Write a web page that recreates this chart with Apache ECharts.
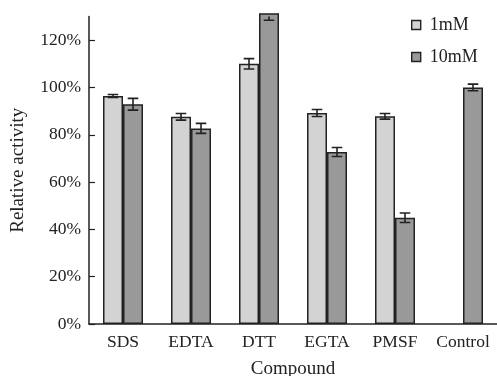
<!DOCTYPE html>
<html><head><meta charset="utf-8">
<script src="https://cdn.jsdelivr.net/npm/echarts@6/dist/echarts.min.js"></script>
<style>html,body{margin:0;padding:0;background:#fff}#c{width:497px;height:376px}</style>
</head><body><div id="c"></div>
<script>
var categories = ['SDS', 'EDTA', 'DTT', 'EGTA', 'PMSF', 'Control'];
var seriesNames = ['1mM', '10mM'];
var val1mM = [96.4, 87.6, 110, 89.2, 87.8, null];
var err1mM = [0.6, 1.4, 2.2, 1.5, 1.2, null];
var val10mM = [92.9, 82.7, 131.4, 72.7, 44.9, 100];
var err10mM = [2.5, 2.1, 3, 1.9, 2, 1.4];
var yTicks = [0, 20, 40, 60, 80, 100, 120];

var FONT = 'Liberation Serif';
var DARK = '#222';
var BW = 20;

function errSeries(vals, errs, offset) {
  var data = [];
  for (var i = 0; i < vals.length; i++) {
    if (vals[i] != null) data.push([i, vals[i] - errs[i], vals[i] + errs[i]]);
  }
  return {
    type: 'custom', clip: true, silent: true, z: 5,
    data: data,
    encode: { x: 0, y: [1, 2] },
    renderItem: function (params, api) {
      var lo = api.coord([api.value(0), api.value(1)]);
      var hi = api.coord([api.value(0), api.value(2)]);
      var x = lo[0] + offset;
      var hw = 5.3;
      var st = { stroke: DARK, lineWidth: 1.6 };
      return { type: 'group', children: [
        { type: 'line', shape: { x1: x, y1: lo[1], x2: x, y2: hi[1] }, style: st },
        { type: 'line', shape: { x1: x - hw, y1: lo[1], x2: x + hw, y2: lo[1] }, style: st },
        { type: 'line', shape: { x1: x - hw, y1: hi[1], x2: x + hw, y2: hi[1] }, style: st }
      ]};
    }
  };
}

var chart = echarts.init(document.getElementById('c'));
chart.setOption({
  animation: false,
  textStyle: { fontFamily: FONT },
  grid: { left: 89, right: 0, top: 16.5, bottom: 52, containLabel: false, outerBoundsMode: 'none' },
  legend: {
    orient: 'vertical', left: 411, top: 16, padding: 0, itemWidth: 9, itemHeight: 9, itemGap: 14,
    icon: 'rect',
    data: seriesNames,
    textStyle: { fontFamily: FONT, fontSize: 18, color: '#222', padding: [0, 0, 0, 4] },
    itemStyle: { borderColor: DARK, borderWidth: 1.4 }
  },
  xAxis: {
    type: 'category', data: categories,
    name: 'Compound', nameLocation: 'middle', nameGap: 36,
    nameTextStyle: { fontFamily: FONT, fontSize: 19, color: '#222' },
    axisLine: { lineStyle: { color: DARK, width: 1.5 } },
    axisTick: { inside: true, length: 5, lineStyle: { color: DARK, width: 1.2 } },
    axisLabel: { fontFamily: FONT, fontSize: 17.5, color: '#222', margin: 9, interval: 0, hideOverlap: false }
  },
  yAxis: {
    type: 'value', min: 0, max: 130, interval: 20,
    name: 'Relative activity', nameLocation: 'middle', nameGap: 61, nameRotate: 90,
    nameTextStyle: { fontFamily: FONT, fontSize: 19, color: '#222' },
    splitLine: { show: false },
    axisLine: { show: true, lineStyle: { color: DARK, width: 1.5 } },
    axisTick: { show: true, inside: true, length: 6, customValues: yTicks, lineStyle: { color: DARK, width: 1.2 } },
    axisLabel: { fontFamily: FONT, fontSize: 17.5, color: '#222', margin: 8, customValues: yTicks,
      formatter: '{value}%' }
  },
  series: [
    { name: seriesNames[0], type: 'bar', data: val1mM, barWidth: BW, barGap: '0%', clip: false,
      itemStyle: { color: '#d3d3d3', borderColor: DARK, borderWidth: 1.5 } },
    { name: seriesNames[1], type: 'bar', data: val10mM, barWidth: BW, barGap: '0%', clip: false,
      itemStyle: { color: '#999999', borderColor: DARK, borderWidth: 1.5 } },
    errSeries(val1mM, err1mM, -BW / 2),
    errSeries(val10mM, err10mM, BW / 2)
  ]
});
</script></body></html>
